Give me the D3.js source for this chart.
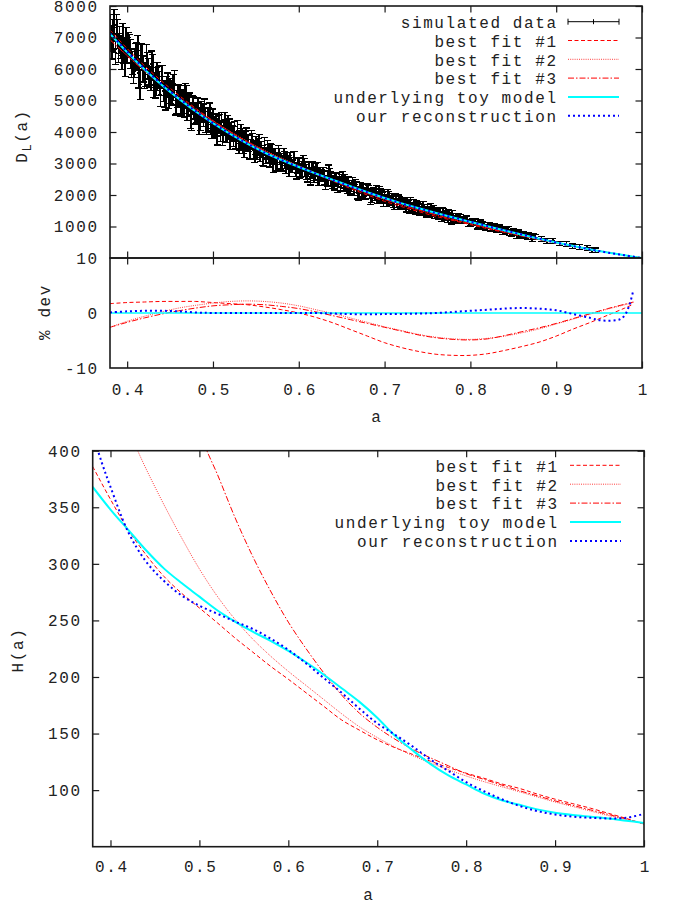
<!DOCTYPE html>
<html>
<head>
<meta charset="utf-8">
<script src="https://cdn.jsdelivr.net/npm/d3@7"></script>
<style>
  body { margin: 0; background: #fff; }
  svg { display: block; }
  text { font-family: "Liberation Mono", "Courier New", monospace; font-size: 16px; letter-spacing: 1.6px; fill: #222; }
</style>
</head>
<body>
<svg id="chart" width="678" height="905"></svg>
<script>
// ---------------- data ----------------
// common grid in scale factor a
const gridA = [0.38,0.40,0.42,0.44,0.46,0.48,0.50,0.52,0.54,0.56,0.58,0.60,0.62,0.64,0.66,0.68,0.70,0.72,0.74,0.76,0.78,0.80,0.82,0.84,0.86,0.88,0.90,0.92,0.94,0.96,0.98,1.00];

// luminosity distance D_L(a)
const toyDL   = [7120,6530,5990,5500,5060,4650,4280,3940,3630,3350,3110,2890,2680,2480,2280,2090,1905,1735,1580,1430,1285,1145,1005,870,740,612,490,378,272,174,84,0];
const fit1DL  = [7240,6650,6110,5620,5170,4750,4360,4010,3680,3390,3130,2890,2660,2440,2210,2000,1800,1630,1470,1320,1190,1060,930,810,695,580,470,367,267,173,85,0];
const fit2DL  = [6930,6430,5950,5510,5110,4720,4360,4020,3710,3420,3170,2930,2700,2480,2260,2050,1860,1680,1520,1370,1220,1090,960,830,710,594,480,374,271,175,85,0];
const fit3DL  = [6930,6420,5940,5490,5080,4690,4340,4000,3690,3400,3150,2910,2690,2470,2250,2050,1860,1680,1520,1370,1220,1090,960,830,715,595,481,374,272,175,85,0];
const reconDL = [7127,6550,6014,5522,5075,4655,4280,3940,3630,3350,3110,2890,2680,2478,2275,2086,1901,1732,1578,1430,1288,1150,1011,877,747,617,492,377,270,172,84,0];

// simulated data with error bars
const simA = [
  0.3800,0.3825,0.3850,0.3875,0.3900,0.3925,0.3950,0.3975,
  0.4000,0.4025,0.4050,0.4075,0.4100,0.4125,0.4150,0.4175,
  0.4200,0.4225,0.4250,0.4275,0.4300,0.4325,0.4350,0.4375,
  0.4400,0.4425,0.4450,0.4475,0.4500,0.4525,0.4550,0.4575,
  0.4600,0.4625,0.4650,0.4675,0.4700,0.4725,0.4750,0.4775,
  0.4800,0.4825,0.4850,0.4875,0.4900,0.4925,0.4950,0.4975,
  0.5000,0.5025,0.5050,0.5075,0.5100,0.5125,0.5150,0.5175,
  0.5200,0.5225,0.5250,0.5275,0.5300,0.5325,0.5350,0.5375,
  0.5400,0.5425,0.5450,0.5475,0.5500,0.5525,0.5550,0.5575,
  0.5600,0.5625,0.5650,0.5675,0.5700,0.5725,0.5750,0.5775,
  0.5800,0.5825,0.5850,0.5875,0.5900,0.5925,0.5950,0.5975,
  0.6000,0.6025,0.6050,0.6075,0.6100,0.6125,0.6150,0.6175,
  0.6200,0.6225,0.6250,0.6275,0.6300,0.6325,0.6350,0.6375,
  0.6400,0.6425,0.6450,0.6475,0.6500,0.6525,0.6550,0.6575,
  0.6600,0.6625,0.6650,0.6675,0.6700,0.6725,0.6750,0.6775,
  0.6800,0.6825,0.6850,0.6875,0.6900,0.6925,0.6950,0.6975,
  0.7000,0.7025,0.7050,0.7075,0.7100,0.7125,0.7150,0.7175,
  0.7200,0.7225,0.7250,0.7275,0.7300,0.7325,0.7350,0.7375,
  0.7400,0.7425,0.7450,0.7475,0.7500,0.7525,0.7550,0.7575,
  0.7600,0.7625,0.7650,0.7675,0.7700,0.7725,0.7750,0.7775,
  0.38125,0.38375,0.38625,0.38875,0.39125,0.39375,0.39625,0.39875,
  0.40125,0.40375,0.40625,0.40875,0.41125,0.41375,0.41625,0.41875,
  0.42125,0.42375,0.42625,0.42875,0.43125,0.43375,0.43625,0.43875,
  0.44125,0.44375,0.44625,0.44875,0.45125,0.45375,0.45625,0.45875,
  0.46125,0.46375,0.46625,0.46875,0.47125,0.47375,0.47625,0.47875,
  0.48125,0.48375,0.48625,0.48875,0.49125,0.49375,0.49625,0.49875,
  0.50125,0.50375,0.50625,0.50875,0.51125,0.51375,0.51625,0.51875,
  0.52125,0.52375,0.52625,0.52875,0.53125,0.53375,0.53625,0.53875,
  0.54125,0.54375,0.54625,0.54875,0.55125,0.55375,0.55625,0.55875,
  0.56125,0.56375,0.56625,0.56875,0.57125,0.57375,0.57625,0.57875,
  0.58125,0.58375,0.58625,0.58875,0.59125,0.59375,0.59625,0.59875,
  0.60125,0.60375,0.60625,0.60875,0.61125,0.61375,0.61625,0.61875,
  0.62125,0.62375,0.62625,0.62875,0.63125,0.63375,0.63625,0.63875,
  0.64125,0.64375,0.64625,0.64875,0.65125,0.65375,0.65625,0.65875,
  0.66125,0.66375,0.66625,0.66875,0.67125,0.67375,0.67625,0.67875,
  0.68125,0.68375,0.68625,0.68875,0.69125,0.69375,0.69625,0.69875,
  0.70125,0.70375,0.70625,0.70875,0.71125,0.71375,0.71625,0.71875,
  0.72125,0.72375,0.72625,0.72875,0.73125,0.73375,0.73625,0.73875,
  0.74125,0.74375,0.74625,0.74875,0.75125,0.75375,0.75625,0.75875,
  0.76125,0.76375,0.76625,0.76875,0.77125,0.77375,0.77625,0.77875,
  0.780,0.784,0.788,0.792,0.796,0.800,0.804,0.808,0.812,0.816,0.820,0.824,0.828,
  0.832,0.836,0.840,0.844,0.848,0.852,0.856,0.860,0.864,0.868,0.872,0.876,
  0.782,0.786,0.790,0.794,0.798,0.802,0.806,0.810,0.814,0.818,0.822,0.826,
  0.830,0.834,0.838,0.842,0.846,0.850,0.854,0.858,0.862,0.866,0.870,0.874,
  0.883,0.889,0.896,0.904,0.912,0.919,0.927,0.936,0.942,0.946
];
const simDL = [
  7300,6710,7400,7320,6670,6700,6940,6210,
  6600,6730,6180,5920,6380,6600,5500,6370,
  5770,6420,5910,5690,6060,5410,5760,5540,
  5750,5300,5100,5520,5300,5160,5530,4950,
  5140,4790,4960,5200,4740,4940,4440,4760,
  4610,4780,4400,4600,4700,4190,4410,4250,
  4420,4220,3940,4260,4300,3950,4030,4220,
  3750,3950,4010,3740,3630,4000,3660,3730,
  3650,3390,3740,3410,3570,3560,3390,3220,
  3560,3240,3320,3400,2990,3260,3040,3220,
  3070,3250,2930,3030,3100,2920,3090,2750,
  2950,2780,3010,2800,2640,2870,2770,2630,
  2790,2490,2650,2680,2560,2460,2710,2520,
  2400,2500,2300,2530,2440,2310,2330,2400,
  2180,2390,2200,2240,2040,2240,2160,2050,
  2180,2040,1960,2060,2110,1870,2010,1920,
  1940,1780,1930,1840,1770,1890,1710,1800,
  1720,1790,1620,1700,1760,1580,1600,1660,
  1590,1480,1640,1490,1540,1420,1480,1520,
  1470,1340,1420,1470,1320,1330,1380,1220,
  6980,7090,6520,7120,6920,6480,6560,6880,
  6760,6480,6190,6170,6420,5870,6430,6000,
  5820,6100,5750,6160,5490,5610,5730,5190,
  5750,5190,5450,5140,5250,5410,4870,5150,
  5150,4920,4760,5110,4850,4510,4860,4580,
  4610,4290,4700,4520,4320,4360,4620,4120,
  4110,4220,4260,4030,3890,4270,3940,4100,
  4030,3850,3720,4060,3720,3790,3450,3830,
  3630,3470,3720,3310,3400,3590,3450,3200,
  3250,3430,3110,3330,3220,3060,3350,3070,
  2990,3110,3150,2830,2950,3100,2800,2930,
  2750,2830,2950,2730,2830,2570,2860,2680,
  2830,2530,2640,2660,2390,2500,2660,2420,
  2340,2480,2420,2340,2540,2430,2210,2260,
  2280,2190,2330,2070,2220,2130,2050,2190,
  2150,1910,2060,2000,1910,2080,2000,1810,
  1870,2000,1800,1880,1690,1790,1850,1710,
  1750,1690,1780,1580,1610,1690,1540,1600,
  1480,1550,1580,1450,1460,1570,1470,1390,
  1400,1420,1290,1430,1380,1280,1300,1360,
  1310,1200,1270,1190,1230,1100,1130,1020,1110,1020,1030,930,1010,
  920,910,840,890,770,810,800,720,710,730,630,660,
  1240,1290,1210,1220,1100,1150,1160,1050,1050,970,1030,980,
  910,960,850,880,820,850,730,760,750,670,670,690,
  610,540,540,460,440,370,350,320,250,250
];
const simErr = [
  440,390,480,410,460,370,500,440,
  410,370,460,390,440,460,480,410,
  390,360,420,370,410,330,450,390,
  370,330,400,350,390,310,420,370,
  350,310,380,330,370,300,400,350,
  330,300,360,310,350,280,380,330,
  310,280,350,300,320,260,360,310,
  300,260,320,280,310,250,330,300,
  280,250,300,260,290,230,320,280,
  260,230,290,240,280,220,300,260,
  240,220,260,230,250,210,280,240,
  230,210,240,220,230,200,250,230,
  210,180,230,200,220,170,240,210,
  200,170,220,180,210,160,230,200,
  180,160,210,170,200,160,210,180,
  170,160,200,160,180,150,200,170,
  160,150,170,150,170,140,180,160,
  150,140,160,140,160,130,170,150,
  140,130,150,140,150,120,160,140,
  140,120,150,130,140,120,150,140,
  410,480,370,460,440,500,390,440,
  390,460,360,440,410,470,370,410,
  370,420,330,410,390,450,360,390,
  350,400,310,390,370,420,330,370,
  330,380,300,370,350,400,310,350,
  310,360,280,350,330,380,300,330,
  300,350,260,320,310,360,280,310,
  280,320,250,310,300,330,260,300,
  260,300,230,290,280,320,250,280,
  240,290,220,280,260,300,230,260,
  230,260,210,250,240,280,220,240,
  220,240,200,230,230,250,210,230,
  200,230,170,220,210,240,180,210,
  180,220,160,210,200,230,170,200,
  170,210,160,200,180,210,160,180,
  160,200,150,180,170,200,160,170,
  150,170,140,170,160,180,150,160,
  140,160,130,160,150,170,140,150,
  140,150,120,150,140,160,130,140,
  130,150,120,140,140,150,120,140,
  100,90,110,95,105,85,110,100,95,105,90,100,85,
  95,100,90,105,85,95,90,85,90,80,95,85,
  95,105,90,100,110,95,100,90,105,95,90,100,
  95,85,100,90,95,85,100,90,85,90,80,85,
  80,75,85,70,80,75,70,80,75,70
];

// percentage deviation from the underlying model
const devA = [0.38,0.40,0.42,0.44,0.46,0.48,0.50,0.52,0.54,0.56,0.58,0.60,0.62,0.64,0.66,0.68,0.70,0.72,0.74,0.76,0.78,0.80,0.82,0.84,0.86,0.88,0.90,0.92,0.94,0.96,0.98,0.99];
const dev1 = [1.7,1.9,2.0,2.1,2.1,2.1,1.9,1.7,1.5,1.1,0.6,0.0,-0.8,-1.8,-3.0,-4.2,-5.4,-6.3,-7.0,-7.5,-7.7,-7.7,-7.4,-6.8,-6.1,-5.3,-4.2,-2.9,-1.7,-0.4,0.9,1.6];
const dev2 = [-2.6,-1.5,-0.6,0.2,0.9,1.4,1.8,2.1,2.2,2.1,1.8,1.3,0.6,-0.1,-0.9,-1.7,-2.5,-3.2,-3.9,-4.4,-4.7,-4.8,-4.6,-4.2,-3.6,-2.9,-2.0,-1.1,-0.2,0.7,1.5,1.9];
const dev3 = [-2.6,-1.7,-0.9,-0.2,0.4,0.9,1.3,1.5,1.6,1.5,1.2,0.8,0.2,-0.5,-1.2,-1.9,-2.6,-3.3,-4.0,-4.5,-4.8,-4.9,-4.7,-4.1,-3.4,-2.7,-1.9,-1.0,-0.1,0.8,1.6,2.0];
const toyDevA = [0.38,1.00];
const toyDev = [0,0];
const reconDevA = [0.38,0.40,0.42,0.44,0.46,0.48,0.50,0.54,0.58,0.62,0.64,0.66,0.70,0.74,0.76,0.78,0.80,0.82,0.84,0.86,0.88,0.90,0.92,0.94,0.95,0.96,0.97,0.975,0.98,0.985,0.99];
const reconDev = [0.1,0.3,0.4,0.4,0.3,0.1,0.0,0.0,0.0,0.0,-0.1,-0.2,-0.2,-0.1,0.0,0.2,0.4,0.6,0.8,0.9,0.8,0.5,-0.2,-0.9,-1.3,-1.4,-1.3,-1.1,-0.4,1.3,4.2];

// expansion rate H(a)
const toyH  = [368,348,330,312,296,283,271,259,249,240,232,223,213,202,190,178,164,148,135,123,113,105,97,91,87,83,80,78,76.5,75,73,71];
const fit1H = [386,357,330,308,289,274,261,248,234.5,222,209.5,198,186,174,162,153,144.5,137.5,131.5,125.5,120,115,110.5,105.5,101.5,96.5,92,88,84,79.5,75,70];
const fit2HA = [0.42,0.43,0.44,0.46,0.48,0.50,0.52,0.54,0.56,0.58,0.60,0.62,0.64,0.66,0.68,0.70,0.72,0.74,0.76,0.78,0.80,0.82,0.84,0.86,0.88,0.90,0.92,0.94,0.96,0.98,1.00];
const fit2H  = [419,401,384,352.5,323,295.5,271.5,251,233.5,218.5,205,192.5,180,167.5,156,146.5,138,130.5,124,118,112.5,107.5,103,98.5,94,89.5,85.5,81.5,77.5,74,70.5];
const fit3HA = [0.50,0.51,0.52,0.54,0.56,0.58,0.60,0.62,0.64,0.66,0.68,0.70,0.72,0.74,0.76,0.78,0.80,0.82,0.84,0.86,0.88,0.90,0.92,0.94,0.96,0.98,1.00];
const fit3H  = [416,397,379.5,341,306.5,276,248.5,225,203.5,184,168,155.5,145,136,128.5,121.5,114.5,109.5,104.5,99.5,95,90.5,86.5,82.5,78.5,74.5,70];
const reconHA = [0.38,0.39,0.40,0.42,0.44,0.46,0.48,0.50,0.52,0.54,0.56,0.58,0.60,0.62,0.64,0.66,0.68,0.70,0.72,0.74,0.76,0.78,0.80,0.82,0.84,0.86,0.88,0.90,0.92,0.94,0.96,0.98,1.00];
const reconH  = [415,390,368,328,302,285,272,263,256,249,242.5,234,224,212,199,186,172,159,149,138.5,127,117,107,99,92,86,81.5,78.5,76.5,75.5,75,75.5,79];

// ticks and labels
const aTicks = [0.4,0.5,0.6,0.7,0.8,0.9,1.0];
const aTickLabels = ["0.4","0.5","0.6","0.7","0.8","0.9","1"];
const dlTicks = [1000,2000,3000,4000,5000,6000,7000,8000];
const devTicks = [-10,0,10];
const hTicks = [100,150,200,250,300,350,400];

const legendTop = ["simulated data","best fit #1","best fit #2","best fit #3","underlying toy model","our reconstruction"];
const legendBottom = ["best fit #1","best fit #2","best fit #3","underlying toy model","our reconstruction"];

// ---------------- drawing ----------------
const svg = d3.select("#chart");
svg.append("rect").attr("width", 678).attr("height", 905).attr("fill", "#fff");

const pTop = {left: 110, right: 642, top: 6, bottom: 258};
const pRes = {left: 110, right: 642, top: 258, bottom: 368};
const pBot = {left: 92.7, right: 644, top: 450.7, bottom: 846.7};

const xT = d3.scaleLinear().domain([0.38, 1]).range([pTop.left, pTop.right]);
const yD = d3.scaleLinear().domain([0, 8000]).range([pTop.bottom, pTop.top]);
const yR = d3.scaleLinear().domain([-10, 10]).range([pRes.bottom, pRes.top]);
const xB = d3.scaleLinear().domain([0.38, 1]).range([pBot.left, pBot.right]);
const yH = d3.scaleLinear().domain([50, 400]).range([pBot.bottom, pBot.top]);

const styles = {
  fit1:  {stroke: "#ff0000", dash: "4,2.5", width: 1},
  fit2:  {stroke: "#ff3c3c", dash: "1,1.2", width: 1},
  fit3:  {stroke: "#ff0000", dash: "6,2,1.5,2", width: 1},
  toy:   {stroke: "#00ffff", dash: null, width: 2},
  recon: {stroke: "#0000ff", dash: "2,3", width: 2}
};
const styleOrder = ["fit1", "fit2", "fit3", "toy", "recon"];

const defs = svg.append("defs");
function clipFor(id, p) {
  defs.append("clipPath").attr("id", id).append("rect")
    .attr("x", p.left).attr("y", p.top)
    .attr("width", p.right - p.left).attr("height", p.bottom - p.top);
  return `url(#${id})`;
}

function drawCurve(g, xs, ys, xScale, yScale, st) {
  const line = d3.line()
    .x(d => xScale(d[0])).y(d => yScale(d[1]))
    .curve(d3.curveCatmullRom.alpha(0.5));
  g.append("path").datum(d3.zip(xs, ys))
    .attr("d", line).attr("fill", "none")
    .attr("stroke", st.stroke).attr("stroke-width", st.width)
    .attr("stroke-dasharray", st.dash);
}

function styleAxis(g) {
  g.attr("font-family", null).attr("font-size", null);
  g.select(".domain").remove();
  g.selectAll(".tick line").attr("stroke", "#1a1a1a").attr("stroke-width", 1.2);
  return g;
}

const TICK = -6.5;
const LS = 1.6;   // letter spacing, trailing gap compensated on anchored labels
const LBL = 5.3;  // half digit height, to centre labels on ticks

// ---- top panel: D_L(a) ----
const gTop = svg.append("g").attr("clip-path", clipFor("clipTop", pTop));

// error bars: vertical stems, then caps and a small point mark
const stems = d3.path();
const caps = d3.path();
d3.zip(simA, simDL, simErr).forEach(([a, d, e]) => {
  const x = xT(a), y0 = yD(d - e), y1 = yD(d + e), yc = yD(d);
  stems.moveTo(x, y0); stems.lineTo(x, y1);
  caps.moveTo(x - 3.5, y0); caps.lineTo(x + 3.5, y0);
  caps.moveTo(x - 3.5, y1); caps.lineTo(x + 3.5, y1);
  caps.moveTo(x - 2, yc); caps.lineTo(x + 2, yc);
});
gTop.append("path").attr("d", stems.toString())
  .attr("fill", "none").attr("stroke", "#000").attr("stroke-width", 1.6)
  .attr("shape-rendering", "crispEdges");
gTop.append("path").attr("d", caps.toString())
  .attr("fill", "none").attr("stroke", "#000").attr("stroke-width", 1.2)
  .attr("shape-rendering", "crispEdges");

const topSeries = {fit1: fit1DL, fit2: fit2DL, fit3: fit3DL, toy: toyDL, recon: reconDL};
styleOrder.forEach(k => drawCurve(gTop, gridA, topSeries[k], xT, yD, styles[k]));

// ---- residual panel ----
const gRes = svg.append("g").attr("clip-path", clipFor("clipRes", pRes));
drawCurve(gRes, devA, dev1, xT, yR, styles.fit1);
drawCurve(gRes, devA, dev2, xT, yR, styles.fit2);
drawCurve(gRes, devA, dev3, xT, yR, styles.fit3);
drawCurve(gRes, toyDevA, toyDev, xT, yR, {stroke: "#00ffff", dash: null, width: 1.5});
drawCurve(gRes, reconDevA, reconDev, xT, yR, styles.recon);

// ---- bottom panel: H(a) ----
const gBot = svg.append("g").attr("clip-path", clipFor("clipBot", pBot));
drawCurve(gBot, gridA, fit1H, xB, yH, styles.fit1);
drawCurve(gBot, fit2HA, fit2H, xB, yH, styles.fit2);
drawCurve(gBot, fit3HA, fit3H, xB, yH, styles.fit3);
drawCurve(gBot, gridA, toyH, xB, yH, styles.toy);
drawCurve(gBot, reconHA, reconH, xB, yH, styles.recon);

// ---- frames ----
[pTop, pRes, pBot].forEach(p => {
  svg.append("rect").attr("x", p.left).attr("y", p.top)
    .attr("width", p.right - p.left).attr("height", p.bottom - p.top)
    .attr("fill", "none").attr("stroke", "#1a1a1a").attr("stroke-width", 1.6);
});

// ---- axes ----
const fmtInt = d3.format("d");

// top panel
styleAxis(svg.append("g").attr("transform", `translate(${pTop.left},0)`)
  .call(d3.axisLeft(yD).tickValues(dlTicks).tickSize(TICK).tickPadding(13 - LS).tickFormat(fmtInt)))
  .selectAll("text").attr("dy", null).attr("y", LBL);
styleAxis(svg.append("g").attr("transform", `translate(${pTop.right},0)`)
  .call(d3.axisRight(yD).tickValues(dlTicks).tickSize(TICK).tickFormat("")));
styleAxis(svg.append("g").attr("transform", `translate(0,${pTop.top})`)
  .call(d3.axisTop(xT).tickValues(aTicks).tickSize(TICK).tickFormat("")));
styleAxis(svg.append("g").attr("transform", `translate(0,${pTop.bottom})`)
  .call(d3.axisBottom(xT).tickValues(aTicks).tickSize(TICK).tickFormat("")));

// residual panel
styleAxis(svg.append("g").attr("transform", `translate(0,${pRes.top})`)
  .call(d3.axisTop(xT).tickValues(aTicks).tickSize(TICK).tickFormat("")));
styleAxis(svg.append("g").attr("transform", `translate(0,${pRes.bottom})`)
  .call(d3.axisBottom(xT).tickValues(aTicks).tickSize(TICK)
    .tickFormat((d, i) => aTickLabels[i])))
  .selectAll("text").attr("dy", null).attr("y", 22 + LBL).attr("dx", LS / 2);
const resLab = svg.append("g").attr("transform", `translate(${pRes.left},0)`)
  .call(d3.axisLeft(yR).tickValues(devTicks).tickSize(0).tickPadding(13 - LS)
    .tickFormat(d => String(d)));
styleAxis(resLab).selectAll("text").attr("dy", null).attr("y", LBL);
resLab.selectAll(".tick line").remove();

// bottom panel
styleAxis(svg.append("g").attr("transform", `translate(${pBot.left},0)`)
  .call(d3.axisLeft(yH).tickValues(hTicks).tickSize(TICK).tickPadding(12.7 - LS).tickFormat(fmtInt)))
  .selectAll("text").attr("dy", null).attr("y", LBL);
styleAxis(svg.append("g").attr("transform", `translate(${pBot.right},0)`)
  .call(d3.axisRight(yH).tickValues(hTicks).tickSize(TICK).tickFormat("")));
styleAxis(svg.append("g").attr("transform", `translate(0,${pBot.top})`)
  .call(d3.axisTop(xB).tickValues(aTicks).tickSize(TICK).tickFormat("")));
styleAxis(svg.append("g").attr("transform", `translate(0,${pBot.bottom})`)
  .call(d3.axisBottom(xB).tickValues(aTicks).tickSize(TICK)
    .tickFormat((d, i) => aTickLabels[i])))
  .selectAll("text").attr("dy", null).attr("y", 20 + LBL).attr("dx", LS / 2);

// ---- axis titles ----
const yt1 = svg.append("text").attr("transform", "translate(26.5,136) rotate(-90)")
  .attr("text-anchor", "middle");
yt1.append("tspan").text("D");
yt1.append("tspan").attr("dy", 4).attr("font-size", "12px").text("L");
yt1.append("tspan").attr("dy", -4).text("(a)");

svg.append("text").attr("transform", "translate(50,312) rotate(-90)")
  .attr("text-anchor", "middle").text("% dev");
svg.append("text").attr("transform", "translate(22.5,650) rotate(-90)")
  .attr("text-anchor", "middle").text("H(a)");

svg.append("text").attr("x", 376 + LS / 2).attr("y", 422).attr("text-anchor", "middle").text("a");
svg.append("text").attr("x", 368 + LS / 2).attr("y", 900).attr("text-anchor", "middle").text("a");

// ---- legends ----
function legend(names, keys, textRight, x0, x1, yStart, step) {
  names.forEach((name, i) => {
    const y = yStart + i * step;
    svg.append("text").attr("x", textRight + LS).attr("y", y + 6.3)
      .attr("text-anchor", "end").text(name);
    const k = keys[i];
    if (k === "data") {
      const xm = (x0 + x1) / 2;
      const p = d3.path();
      p.moveTo(x0, y); p.lineTo(x1, y);
      p.moveTo(x0, y - 3); p.lineTo(x0, y + 3);
      p.moveTo(x1, y - 3); p.lineTo(x1, y + 3);
      p.moveTo(xm, y - 2.5); p.lineTo(xm, y + 2.5);
      svg.append("path").attr("d", p.toString()).attr("fill", "none")
        .attr("stroke", "#000").attr("stroke-width", 1);
    } else {
      const st = styles[k];
      svg.append("line").attr("x1", x0).attr("x2", x1).attr("y1", y).attr("y2", y)
        .attr("stroke", st.stroke).attr("stroke-width", st.width)
        .attr("stroke-dasharray", st.dash);
    }
  });
}
legend(legendTop, ["data", "fit1", "fit2", "fit3", "toy", "recon"], 556, 568, 619, 21.7, 18.8);
legend(legendBottom, ["fit1", "fit2", "fit3", "toy", "recon"], 557, 570, 621, 465.3, 18.9);
</script>
</body>
</html>
